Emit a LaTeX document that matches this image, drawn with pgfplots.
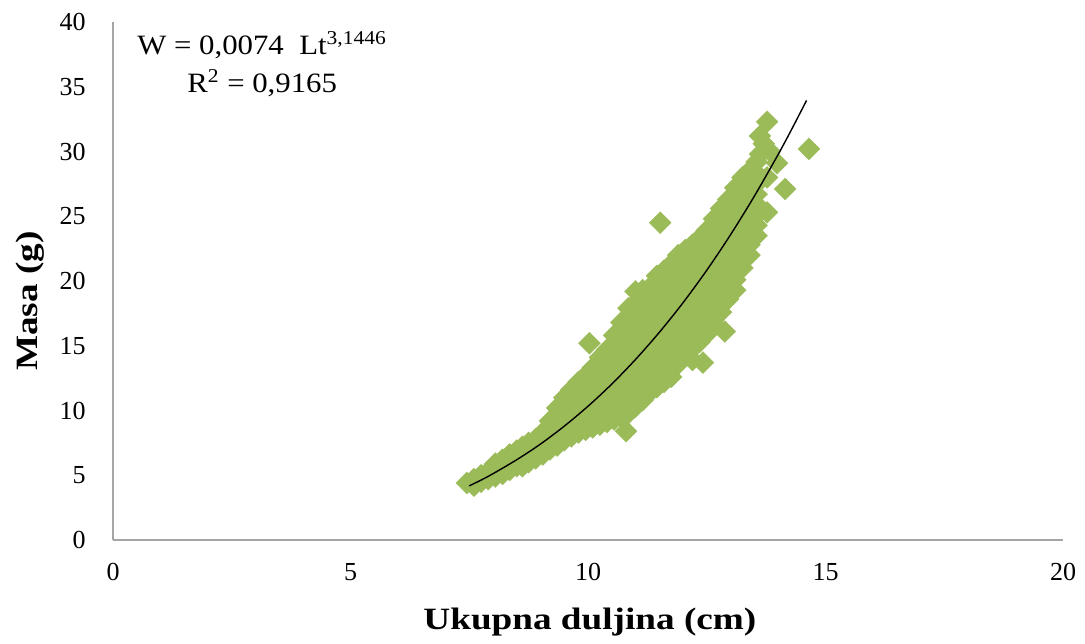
\documentclass[border=0pt]{standalone}
\usepackage{fontspec}
\setmainfont{Liberation Serif}
\newfontfamily\widefont[FakeStretch=1.2]{Liberation Serif}
\newfontfamily\eqfont[FakeStretch=1.1]{Liberation Serif}
\usepackage{pgfplots}
\pgfplotsset{compat=1.18}
\definecolor{ptgreen}{RGB}{155,187,89}
\definecolor{axgray}{RGB}{165,165,165}
\begin{document}
\begin{tikzpicture}
\useasboundingbox (-56.5pt,-51.5pt) rectangle (486pt,270pt);
\begin{axis}[
  at={(0,0)}, anchor=south west,
  scale only axis, width=475pt, height=259pt,
  xmin=0, xmax=20, ymin=0, ymax=40,
  xtick={0,5,...,20}, ytick={0,5,...,40},
  axis x line*=bottom, axis y line*=left,
  axis line style={axgray, line width=0.8pt},
  major tick length=0pt,
  clip marker paths=true,
  /pgf/number format/assume math mode=true,
  tick label style={font=\fontsize{13}{15}\selectfont, inner sep=0pt},
  xticklabel style={anchor=north, yshift=-11.5pt},
  yticklabel style={anchor=east, xshift=-13.5pt},
  xlabel={Ukupna duljina (cm)},
  ylabel={Masa (g)},
  label style={font=\widefont\bfseries\fontsize{15.5}{18}\selectfont},
  xlabel style={at={(axis description cs:0.502,-0.158)}, anchor=center},
  ylabel style={at={(axis description cs:-0.0874,0.4614)}, anchor=center},
]
\addplot[only marks, mark=square*, mark size=3.9pt,
  mark options={rotate=45, fill=ptgreen, draw=ptgreen, line width=0.1pt}]
coordinates {
(7.45,4.4)
(7.6,4.2) (7.6,4.7)
(7.75,4.5) (7.75,5.0)
(7.9,4.7) (7.9,5.3)
(8.05,4.9) (8.05,5.4) (8.05,5.9)
(8.2,5.1) (8.2,5.7) (8.2,6.2)
(8.35,5.4) (8.35,6.0) (8.35,6.6)
(8.5,5.7) (8.5,6.3) (8.5,6.9)
(8.62,5.7) (8.62,6.5) (8.62,7.2)
(8.75,6.0) (8.75,6.8) (8.75,7.5)
(8.9,6.3) (8.9,7.0) (8.9,7.8)
(9.05,6.6) (9.05,7.4) (9.05,8.3)
(9.2,7.0) (9.2,7.8) (9.2,8.5) (9.2,9.2)
(9.35,7.3) (9.35,8.0) (9.35,8.8) (9.35,9.5) (9.35,10.2)
(9.5,7.7) (9.5,8.5) (9.5,9.3) (9.5,10.1) (9.5,11.0)
(9.65,8.0) (9.65,8.8) (9.65,9.6) (9.65,10.4) (9.65,11.0) (9.65,11.6)
(9.8,8.3) (9.8,9.1) (9.8,9.9) (9.8,10.7) (9.8,11.5) (9.8,12.2)
(9.95,8.5) (9.95,9.3) (9.95,10.1) (9.95,10.9) (9.95,11.7) (9.95,12.7)
(10.03,15.2)
(10.1,8.7) (10.1,9.5) (10.1,10.3) (10.1,11.1) (10.1,11.9) (10.1,12.6) (10.1,13.3)
(10.25,8.9) (10.25,9.7) (10.25,10.5) (10.25,11.3) (10.25,12.1) (10.25,12.9) (10.25,13.6) (10.25,14.1)
(10.4,9.1) (10.4,9.9) (10.4,10.7) (10.4,11.5) (10.4,12.3) (10.4,13.1) (10.4,13.9) (10.4,14.7)
(10.55,9.3) (10.55,10.1) (10.55,10.9) (10.55,11.7) (10.55,12.5) (10.55,13.3) (10.55,14.1) (10.55,14.9) (10.55,15.8)
(10.7,9.5) (10.7,10.3) (10.7,11.1) (10.7,11.9) (10.7,12.7) (10.7,13.5) (10.7,14.3) (10.7,15.1) (10.7,15.9) (10.7,16.8)
(10.8,8.4)
(10.85,9.8) (10.85,10.6) (10.85,11.4) (10.85,12.2) (10.85,13.0) (10.85,13.8) (10.85,14.6) (10.85,15.4) (10.85,16.2) (10.85,17.0) (10.85,17.9)
(11.0,10.3) (11.0,11.1) (11.0,11.9) (11.0,12.7) (11.0,13.5) (11.0,14.3) (11.0,15.1) (11.0,15.9) (11.0,16.7) (11.0,17.5) (11.0,18.3) (11.0,19.2)
(11.15,10.8) (11.15,11.6) (11.15,12.4) (11.15,13.2) (11.15,14.0) (11.15,14.8) (11.15,15.6) (11.15,16.4) (11.15,17.2) (11.15,18.0) (11.15,18.8) (11.15,19.3)
(11.3,11.4) (11.3,12.2) (11.3,13.0) (11.3,13.8) (11.3,14.6) (11.3,15.4) (11.3,16.2) (11.3,17.0) (11.3,17.8) (11.3,18.6) (11.3,19.5)
(11.45,11.8) (11.45,12.6) (11.45,13.4) (11.45,14.2) (11.45,15.0) (11.45,15.8) (11.45,16.6) (11.45,17.4) (11.45,18.2) (11.45,19.0) (11.45,19.8) (11.45,20.4)
(11.52,24.5)
(11.6,12.2) (11.6,13.0) (11.6,13.8) (11.6,14.6) (11.6,15.4) (11.6,16.2) (11.6,17.0) (11.6,17.8) (11.6,18.6) (11.6,19.4) (11.6,20.2) (11.6,20.8)
(11.75,12.6) (11.75,13.4) (11.75,14.2) (11.75,15.0) (11.75,15.8) (11.75,16.6) (11.75,17.4) (11.75,18.2) (11.75,19.0) (11.75,19.8) (11.75,20.6) (11.75,21.3)
(11.9,13.6) (11.9,14.4) (11.9,15.2) (11.9,16.0) (11.9,16.8) (11.9,17.6) (11.9,18.4) (11.9,19.2) (11.9,20.0) (11.9,20.8) (11.9,21.6) (11.9,22.0)
(12.05,14.3) (12.05,15.1) (12.05,15.9) (12.05,16.7) (12.05,17.5) (12.05,18.3) (12.05,19.1) (12.05,19.9) (12.05,20.7) (12.05,21.5) (12.05,22.4)
(12.2,13.9) (12.2,14.8) (12.2,15.6) (12.2,16.4) (12.2,17.2) (12.2,18.0) (12.2,18.8) (12.2,19.6) (12.2,20.4) (12.2,21.2) (12.2,22.0) (12.2,22.8)
(12.35,15.3) (12.35,16.1) (12.35,16.9) (12.35,17.7) (12.35,18.5) (12.35,19.3) (12.35,20.1) (12.35,20.9) (12.35,21.7) (12.35,22.5) (12.35,23.3)
(12.42,13.7)
(12.5,15.9) (12.5,16.7) (12.5,17.5) (12.5,18.3) (12.5,19.1) (12.5,19.9) (12.5,20.7) (12.5,21.5) (12.5,22.3) (12.5,23.1) (12.5,23.9)
(12.65,16.7) (12.65,17.5) (12.65,18.3) (12.65,19.1) (12.65,19.9) (12.65,20.7) (12.65,21.5) (12.65,22.3) (12.65,23.1) (12.65,23.9) (12.65,24.8)
(12.8,17.6) (12.8,18.4) (12.8,19.2) (12.8,20.0) (12.8,20.8) (12.8,21.6) (12.8,22.4) (12.8,23.2) (12.8,24.0) (12.8,24.8) (12.8,25.6)
(12.88,16.1)
(12.95,18.6) (12.95,19.4) (12.95,20.2) (12.95,21.0) (12.95,21.8) (12.95,22.6) (12.95,23.4) (12.95,24.2) (12.95,25.0) (12.95,25.8) (12.95,26.3)
(13.1,19.3) (13.1,20.1) (13.1,20.9) (13.1,21.7) (13.1,22.5) (13.1,23.3) (13.1,24.1) (13.1,24.9) (13.1,25.7) (13.1,26.5) (13.1,27.2)
(13.25,21.0) (13.25,21.8) (13.25,22.6) (13.25,23.4) (13.25,24.2) (13.25,25.0) (13.25,25.8) (13.25,26.6) (13.25,27.4) (13.25,28.0)
(13.4,22.0) (13.4,22.8) (13.4,23.6) (13.4,24.4) (13.4,25.2) (13.4,26.0) (13.4,26.8) (13.4,27.6) (13.4,28.5)
(13.55,23.5) (13.55,24.3) (13.55,25.1) (13.55,25.9) (13.55,26.7) (13.55,27.5) (13.55,28.3) (13.55,29.2)
(13.62,29.8) (13.62,31.2) (13.7,30.6) (13.77,32.3) (13.83,30.0) (13.98,29.1) (13.77,28.0)
(13.77,25.3) (14.15,27.1) (14.65,30.2)
};
\addplot[black, line width=0.7pt, smooth] coordinates {
(7.5,4.18) (7.75,4.63) (8,5.12) (8.5,6.20) (9,7.41) (9.5,8.79) (10,10.33)
(10.5,12.04) (11,13.94) (11.5,16.03) (12,18.32) (12.5,20.83) (13,23.57)
(13.5,26.54) (14,29.75) (14.3,31.80) (14.6,33.94)
};
\node[align=center, font=\eqfont\fontsize{14}{19}\selectfont]
  at (axis description cs:0.157,0.919)
  {W = 0,0074~~Lt\textsuperscript{3,1446}\\R\textsuperscript{2} = 0,9165};
\end{axis}
\end{tikzpicture}
\end{document}
